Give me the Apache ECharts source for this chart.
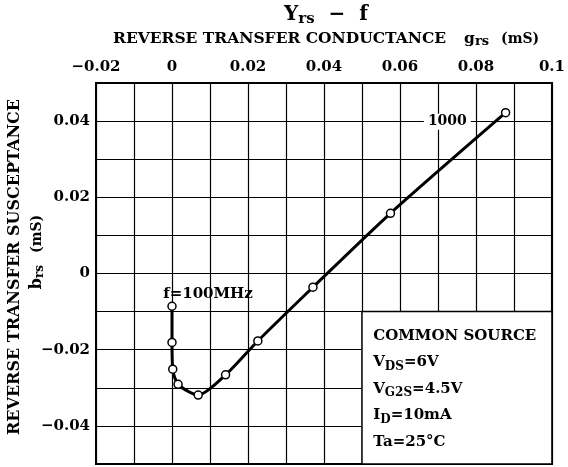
<!DOCTYPE html>
<html>
<head>
<meta charset="utf-8">
<script src="https://cdn.jsdelivr.net/npm/echarts@6/dist/echarts.min.js"></script>
<style>
  html, body { margin: 0; padding: 0; background: #fff; }
  #chart { width: 568px; height: 467px; }
</style>
</head>
<body>
<div id="chart"></div>
<script>
// reverse transfer conductance g_rs (mS), 100 MHz .. 1000 MHz
const gRs = [0, 0, 0.0002, 0.0016, 0.0069, 0.0141, 0.0226, 0.0371, 0.0575, 0.0878]
// reverse transfer susceptance b_rs (mS)
const bRs = [-0.0086, -0.0181, -0.0251, -0.0291, -0.0319, -0.0266, -0.0177, -0.0036, 0.0158, 0.0422]
const pointLabels = ['f=100MHz', '', '', '', '', '', '', '', '', '1000']

const xTickLabels = ['\u22120.02', '0', '0.02', '0.04', '0.06', '0.08', '0.1']
const yTickLabels = ['\u22120.04', '\u22120.02', '0', '0.02', '0.04']

const FONT = '"DejaVu Serif", "Liberation Serif", serif'

let chart = echarts.init(document.getElementById('chart'))

let points = gRs.map((g, i) => {
  let item = { value: [g, bRs[i]] }
  if (i === 0) {
    item.label = { show: true, formatter: pointLabels[i], position: 'top', offset: [36, 5], fontSize: 15 }
  }
  if (i === gRs.length - 1) {
    item.label = { show: true, formatter: pointLabels[i], position: 'left', distance: 30, offset: [0, 9],
      fontSize: 14, backgroundColor: '#fff', padding: [1, 4] }
  }
  return item
})

let option = {
  animation: false,
  backgroundColor: '#fff',
  textStyle: { fontFamily: FONT, color: '#000', fontWeight: 'bold' },
  grid: {
    left: 96, top: 83, width: 461, height: 381,
    show: true, borderColor: '#000', borderWidth: 2
  },
  xAxis: {
    type: 'value', position: 'top',
    min: -0.02, max: 0.1, interval: 0.01,
    axisLine: { show: false }, axisTick: { show: false },
    splitLine: { show: true, lineStyle: { color: '#000', width: 1.2 } },
    axisLabel: {
      margin: 8, fontSize: 15, color: '#000', fontFamily: FONT, fontWeight: 'bold',
      formatter: v => {
        let k = Math.round(v * 100) + 2
        return k % 2 === 0 ? xTickLabels[k / 2] : ''
      }
    }
  },
  yAxis: {
    type: 'value',
    min: -0.05, max: 0.05, interval: 0.01,
    axisLine: { show: false }, axisTick: { show: false },
    splitLine: { show: true, lineStyle: { color: '#000', width: 1.2 } },
    axisLabel: {
      margin: 6, fontSize: 15, color: '#000', fontFamily: FONT, fontWeight: 'bold',
      formatter: v => {
        let k = Math.round(v * 100) + 4
        return k % 2 === 0 ? (yTickLabels[k / 2] || '') : ''
      }
    }
  },
  series: [{
    type: 'line',
    data: points,
    smooth: 0.25,
    symbol: 'circle',
    symbolSize: 8,
    lineStyle: { color: '#000', width: 3 },
    itemStyle: { color: '#fff', borderColor: '#000', borderWidth: 1.5 },
    label: { color: '#000', fontFamily: FONT, fontWeight: 'bold' },
    z: 5,
    markArea: {
      silent: true,
      itemStyle: { color: '#fff', borderColor: '#000', borderWidth: 1.5 },
      label: {
        show: true, position: [12, 12], fontFamily: FONT, color: '#000',
        formatter: [
          '{t|COMMON SOURCE}',
          '{t|V}{s|DS}{t|=6V}',
          '{t|V}{s|G2S}{t|=4.5V}',
          '{t|I}{s|D}{t|=10mA}',
          '{t|Ta=25\u00b0C}'
        ].join('\n'),
        rich: {
          t: { fontSize: 15, lineHeight: 26.5, fontFamily: FONT, fontWeight: 'bold', color: '#000' },
          s: { fontSize: 12, lineHeight: 26.5, padding: [8, 0, 0, 0], fontFamily: FONT, fontWeight: 'bold', color: '#000' }
        }
      },
      data: [[{ coord: [0.05, -0.05] }, { coord: [0.1, -0.01] }]]
    }
  }],
  graphic: [
    {
      type: 'text', left: 284, top: 5,
      style: {
        text: '{y|Y}{s|rs}{y|  \u2212  f}',
        rich: {
          y: { fontSize: 20, fontFamily: FONT, fontWeight: 'bold', fill: '#000' },
          s: { fontSize: 15, padding: [8, 0, 0, 0], fontFamily: FONT, fontWeight: 'bold', fill: '#000' }
        }
      }
    },
    {
      type: 'text', left: 113, top: 31,
      style: {
        text: '{t|REVERSE TRANSFER CONDUCTANCE}{g|g}{s|rs}{m|(mS)}',
        rich: {
          t: { fontSize: 15.5, fontFamily: FONT, fontWeight: 'bold', fill: '#000' },
          g: { fontSize: 15.5, padding: [0, 0, 0, 18], fontFamily: FONT, fontWeight: 'bold', fill: '#000' },
          s: { fontSize: 13, padding: [6, 0, 0, 0], fontFamily: FONT, fontWeight: 'bold', fill: '#000' },
          m: { fontSize: 14, padding: [0, 0, 0, 12], fontFamily: FONT, fontWeight: 'bold', fill: '#000' }
        }
      }
    },
    {
      type: 'text', x: 15, y: 267, rotation: Math.PI / 2,
      style: {
        text: 'REVERSE TRANSFER SUSCEPTANCE',
        font: 'bold 16px ' + FONT, fill: '#000', align: 'center', verticalAlign: 'middle'
      }
    },
    {
      type: 'text', x: 37, y: 252, rotation: Math.PI / 2,
      style: {
        text: '{t|b}{s|rs}{m|(mS)}',
        align: 'center', verticalAlign: 'middle',
        rich: {
          t: { fontSize: 16, fontFamily: FONT, fontWeight: 'bold', fill: '#000' },
          s: { fontSize: 12, padding: [6, 0, 0, 0], fontFamily: FONT, fontWeight: 'bold', fill: '#000' },
          m: { fontSize: 14, padding: [0, 0, 0, 12], fontFamily: FONT, fontWeight: 'bold', fill: '#000' }
        }
      }
    }
  ]
}
chart.setOption(option)
</script>
</body>
</html>
